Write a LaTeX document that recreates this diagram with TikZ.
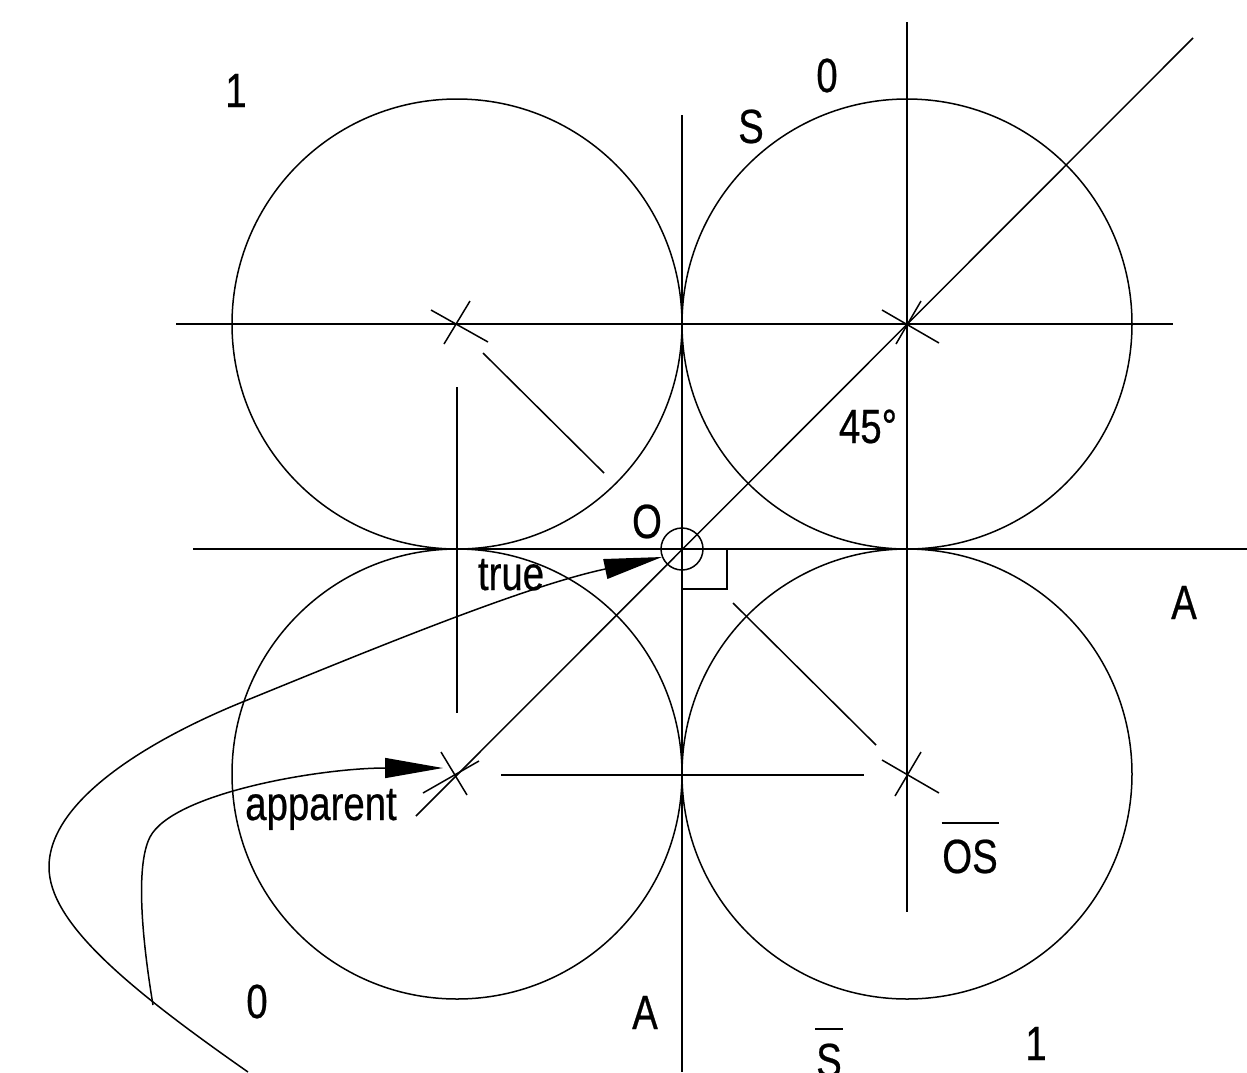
\documentclass[tikz,border=0pt]{standalone}
\usepackage{fontspec}
\setmainfont[FakeStretch=0.8,FakeBold=0.5]{Liberation Sans}
\usetikzlibrary{arrows.meta}
\begin{document}
\begin{tikzpicture}[x=1pt,y=-1pt,line width=1.5pt,
  lab/.style={font=\fontsize{48}{48}\selectfont,inner sep=0pt,anchor=base},
  ring/.style={draw,circle,inner sep=0pt,minimum size=450pt},
  bigtip/.style={-{Triangle[length=58pt,width=20pt]}}]
\useasboundingbox (0,0) rectangle (1247,1072);
% circles
\node[ring] (c1) at (457,324) {};
\node[ring] (c2) at (907,324) {};
\node[ring] (c3) at (457,774) {};
\node[ring] (c4) at (907,774) {};
% small circle at O
\node[draw,circle,inner sep=0pt,minimum size=42pt] (o) at (682,549) {};
% main lines
\draw (176,324) -- (1173,324);
\draw (193,549) -- (1247,549);
\draw (682,115) -- (682,1072);
\draw (907,22) -- (907,912);
\draw (907,185) -- (907,465);
\draw (1193,38) -- (416,816);
\draw (483,353) -- (604,473);
\draw (733,603) -- (876,745);
\draw (457,387) -- (457,713);
\draw (501,775) -- (864,775);
% right angle mark
\draw (682,589) -- (727,589) -- (727,549);
% ticks
\draw (431,310) -- (488,342);
\draw (470,301) -- (444,344);
\draw (882,310) -- (939,343);
\draw (921,301) -- (896,344);
\draw (441,752) -- (467,795);
\draw (423,793) -- (479,761);
\draw (882,760) -- (939,793);
\draw (921,752) -- (895,796);
% labels
\node[lab] (l1) at (236,107) {1};
\node[lab] (l0) at (827,92) {0};
\node[lab] (lS) at (751,143) {S};
\node[lab] (l45) at (868,443) {45°};
\node[lab] (lO) at (647,538) {O};
\node[lab] (ltrue) at (511,590) {true};
\node[lab] (lA) at (1184,619) {A};
\node[lab] (lapp) at (321,820) {apparent};
\node[lab] (los) at (970,873) {OS};
\draw ([yshift=16pt]los.north west) -- ([yshift=16pt]los.north east);
\node[lab] (lb0) at (257,1018) {0};
\node[lab] (lbA) at (645,1029) {A};
\node[lab] (lbS) at (829,1077) {S};
\draw ([yshift=14pt]lbS.north west) -- ([yshift=14pt]lbS.north east);
\node[lab] (lb1) at (1036,1060) {1};
% curved arrows
\coordinate (ta) at (248,1072);
\coordinate (tb) at (49,867);
\coordinate (tc) at (240,703);
\coordinate (ttip) at (662,557);
\coordinate (aa) at (153,1005);
\coordinate (ab) at (150,837);
\coordinate (atip) at (443,768);
\draw[bigtip] (ta) .. controls (125,986) and (49,922) .. (tb)
  .. controls (49,800) and (150,740) .. (tc)
  .. controls (370,650) and (525,586) .. (ttip);
\draw[bigtip] (aa) .. controls (144,951) and (134,868) .. (ab)
  .. controls (173,793) and (320,768) .. (atip);
\end{tikzpicture}
\end{document}
